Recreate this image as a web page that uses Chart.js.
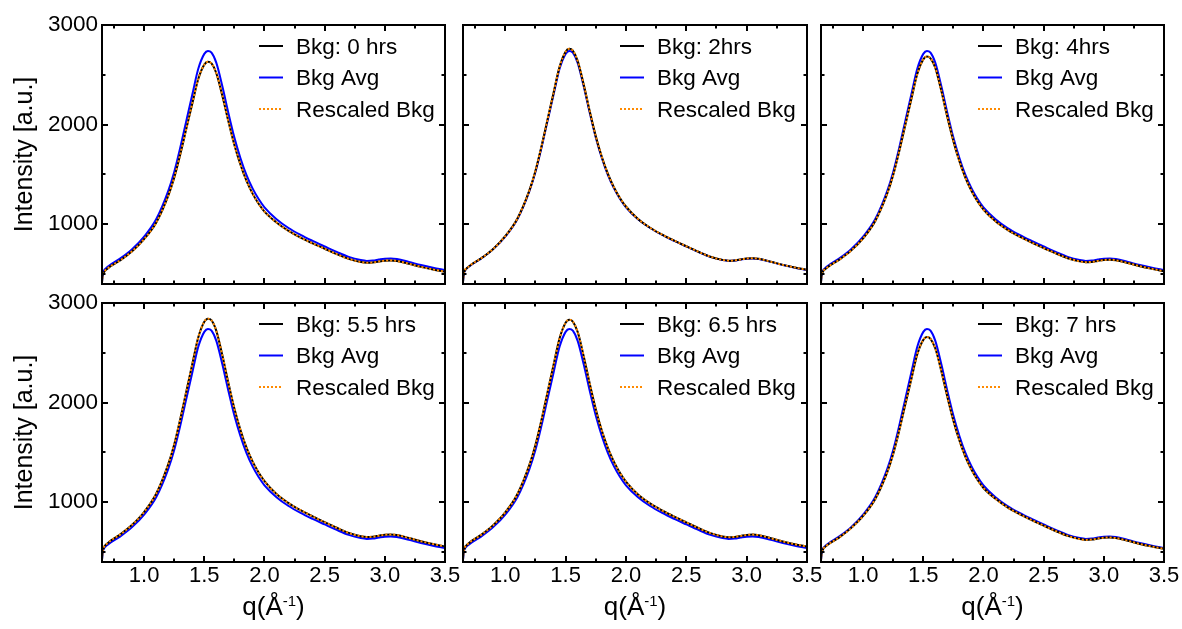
<!DOCTYPE html>
<html><head><meta charset="utf-8">
<script src="https://cdn.jsdelivr.net/npm/chart.js@4.4.1/dist/chart.umd.min.js"></script>
<style>
html,body{margin:0;padding:0;background:#fff;}
body{width:1182px;height:629px;position:relative;overflow:hidden;}
canvas{position:absolute;}
</style></head><body>
<canvas id="c0" width="475" height="300" style="left:0;top:0"></canvas>
<canvas id="c1" width="385" height="300" style="left:440px;top:0"></canvas>
<canvas id="c2" width="382" height="300" style="left:800px;top:0"></canvas>
<canvas id="c3" width="475" height="344" style="left:0;top:285px"></canvas>
<canvas id="c4" width="385" height="344" style="left:440px;top:285px"></canvas>
<canvas id="c5" width="382" height="344" style="left:800px;top:285px"></canvas>
<script>
// ---- data ----
const qValues   = [0.65, 0.655, 0.66, 0.7, 0.8, 0.9, 1.0, 1.1, 1.2, 1.25, 1.3, 1.35, 1.4, 1.45, 1.5, 1.53, 1.56, 1.6, 1.65, 1.7, 1.75, 1.8, 1.85, 1.9, 1.95, 2.0, 2.1, 2.2, 2.3, 2.4, 2.5, 2.6, 2.7, 2.8, 2.85, 2.9, 2.95, 3.0, 3.05, 3.1, 3.2, 3.3, 3.4, 3.5];
const avgValues = [420, 495, 520, 575, 655, 750, 876, 1050, 1333, 1525, 1768, 2035, 2300, 2560, 2710, 2740, 2722, 2620, 2385, 2118, 1870, 1665, 1495, 1362, 1255, 1170, 1050, 962, 893, 833, 777, 722, 672, 640, 632, 635, 645, 654, 657, 651, 622, 590, 563, 540];
const bkg0h     = [415, 485, 505, 558, 636, 728, 850, 1015, 1285, 1468, 1700, 1955, 2210, 2458, 2602, 2632, 2614, 2516, 2290, 2034, 1796, 1600, 1437, 1310, 1208, 1127, 1018, 933, 866, 808, 754, 700, 652, 621, 613, 616, 626, 634, 637, 631, 603, 572, 546, 524];
const bkg2h     = [420, 495, 521, 577, 657, 752, 880, 1055, 1340, 1535, 1780, 2050, 2318, 2580, 2732, 2762, 2743, 2640, 2403, 2134, 1884, 1678, 1507, 1372, 1264, 1178, 1053, 965, 896, 836, 779, 724, 674, 642, 634, 637, 647, 656, 659, 653, 624, 592, 565, 542];
const bkg4h     = [418, 490, 512, 564, 642, 735, 858, 1030, 1306, 1494, 1732, 1993, 2252, 2508, 2655, 2684, 2666, 2568, 2337, 2075, 1833, 1632, 1465, 1335, 1230, 1147, 1029, 943, 875, 816, 761, 708, 659, 627, 619, 622, 632, 641, 644, 638, 610, 578, 552, 529];
const bkg55h    = [425, 505, 532, 592, 675, 773, 902, 1085, 1380, 1580, 1833, 2110, 2385, 2655, 2812, 2843, 2825, 2720, 2475, 2198, 1940, 1727, 1550, 1412, 1300, 1212, 1082, 991, 920, 858, 800, 744, 692, 659, 651, 654, 664, 674, 677, 671, 641, 608, 580, 557];
const bkg65h    = [425, 503, 530, 590, 672, 770, 898, 1080, 1375, 1575, 1826, 2103, 2377, 2645, 2802, 2833, 2814, 2710, 2466, 2190, 1933, 1720, 1545, 1407, 1296, 1208, 1078, 988, 917, 855, 798, 741, 690, 657, 649, 652, 662, 672, 675, 669, 639, 606, 578, 555];
const bkg7h     = [418, 490, 512, 567, 645, 740, 862, 1030, 1300, 1485, 1720, 1978, 2232, 2485, 2630, 2659, 2641, 2543, 2316, 2058, 1818, 1620, 1456, 1328, 1225, 1143, 1034, 948, 880, 821, 765, 711, 662, 630, 622, 625, 635, 644, 647, 641, 613, 581, 555, 532];
const panelLabels = ['Bkg: 0 hrs', 'Bkg: 2hrs', 'Bkg: 4hrs', 'Bkg: 5.5 hrs', 'Bkg: 6.5 hrs', 'Bkg: 7 hrs'];
const panelBkg    = [bkg0h, bkg2h, bkg4h, bkg55h, bkg65h, bkg7h];
const avgLabel = 'Bkg Avg';
const rescaledLabel = 'Rescaled Bkg';
const xMajorTicks = [1.0, 1.5, 2.0, 2.5, 3.0, 3.5];
const xMinorTicks = [0.75, 1.25, 1.75, 2.25, 2.75, 3.25];
const yMajorTicks = [1000, 2000, 3000];
const yMinorTicks = [500, 1500, 2500];
const yTitle = 'Intensity [a.u.]';
const xTitleMain = 'q(Å', xTitleSup = '-1', xTitleEnd = ')';

const X_MIN = 0.65, X_MAX = 3.5, Y_MIN = 400, Y_MAX = 3000;
const FONT = '"Liberation Sans", Arial, Helvetica, sans-serif';

const layouts = [
  {padL:0,  padR:30, padT:25, padB:16, yW:102, xH:0,  showY:true,  showX:false},
  {padL:23, padR:18, padT:25, padB:16, yW:0,   xH:0,  showY:false, showX:false},
  {padL:21, padR:18, padT:25, padB:16, yW:0,   xH:0,  showY:false, showX:false},
  {padL:0,  padR:30, padT:18, padB:0,  yW:102, xH:67, showY:true,  showX:true},
  {padL:23, padR:18, padT:18, padB:0,  yW:0,   xH:67, showY:false, showX:true},
  {padL:21, padR:18, padT:18, padB:0,  yW:0,   xH:67, showY:false, showX:true}
];

function pts(vals){ return qValues.map((q,i)=>({x:q, y:vals[i]})); }

const framePlugin = {
  id: 'frame',
  afterDraw(chart, args, opts) {
    const {ctx, chartArea, scales} = chart;
    const {left, top, right, bottom} = chartArea;
    const x = scales.x, y = scales.y;
    ctx.save();
    ctx.strokeStyle = '#000';
    ctx.lineWidth = 2;
    ctx.setLineDash([]);
    const seg = (a,b,c,d)=>{ctx.beginPath();ctx.moveTo(a,b);ctx.lineTo(c,d);ctx.stroke();};
    const xt = (vals,len)=>vals.forEach(v=>{const p=Math.round(x.getPixelForValue(v)); seg(p,bottom,p,bottom-len); seg(p,top,p,top+len);});
    const yt = (vals,len)=>vals.forEach(v=>{const p=Math.round(y.getPixelForValue(v)); seg(left,p,left+len,p); seg(right,p,right-len,p);});
    xt(xMajorTicks,6); xt(xMinorTicks,3.5);
    yt(yMajorTicks,6); yt(yMinorTicks,3.5);
    ctx.strokeRect(left, top, right-left, bottom-top);

    // legend
    const lx = left + 157, tx = left + 194;
    ctx.font = '22.5px ' + FONT;
    ctx.textBaseline = 'alphabetic';
    ctx.textAlign = 'left';
    chart.data.datasets.forEach((ds,i)=>{
      const yb = top + 28.5 + 31.5*i;
      const yl = yb - 7.5;
      ctx.strokeStyle = ds.borderColor;
      ctx.lineWidth = ds.borderWidth;
      ctx.setLineDash(ds.borderDash || []);
      seg(lx, yl, lx+24, yl);
      ctx.setLineDash([]);
      ctx.fillStyle = '#000';
      ctx.fillText(ds.label, tx, yb);
    });

    // x axis title with superscript
    if (opts.showX) {
      const cx = (left+right)/2, base = bottom + 53;
      const f1 = '26px ' + FONT, f2 = '15px ' + FONT;
      ctx.font = f1; const w1 = ctx.measureText(xTitleMain).width, w3 = ctx.measureText(xTitleEnd).width;
      ctx.font = f2; const w2 = ctx.measureText(xTitleSup).width;
      let sx = cx - (w1+w2+w3)/2;
      ctx.fillStyle = '#000';
      ctx.font = f1; ctx.fillText(xTitleMain, sx, base); sx += w1;
      ctx.font = f2; ctx.fillText(xTitleSup, sx, base - 9); sx += w2;
      ctx.font = f1; ctx.fillText(xTitleEnd, sx, base);
    }
    ctx.restore();
  }
};

layouts.forEach((L, i) => {
  const bkg = panelBkg[i];
  new Chart(document.getElementById('c' + i), {
    type: 'line',
    data: {
      datasets: [
        {label: panelLabels[i], data: pts(bkg), borderColor: '#000000', borderWidth: 2, order: 2},
        {label: avgLabel, data: pts(avgValues), borderColor: '#0000ff', borderWidth: 2, order: 3},
        {label: rescaledLabel, data: pts(bkg), borderColor: '#ff8a00', borderWidth: 2, borderDash: [2, 2], order: 1}
      ]
    },
    options: {
      responsive: false,
      animation: false,
      events: [],
      elements: {
        point: {radius: 0},
        line: {cubicInterpolationMode: 'monotone', fill: false, borderCapStyle: 'butt'}
      },
      layout: {padding: {left: L.padL, right: L.padR, top: L.padT, bottom: L.padB}},
      plugins: {
        legend: {display: false},
        tooltip: {enabled: false},
        frame: {showX: L.showX}
      },
      scales: {
        x: {
          type: 'linear', min: X_MIN, max: X_MAX,
          grid: {display: false, drawTicks: false},
          border: {display: false},
          afterBuildTicks: s => { s.ticks = xMajorTicks.map(v => ({value: v})); },
          ticks: {display: L.showX, autoSkip: false, maxRotation: 0, padding: 1,
                  color: '#000', font: {size: 22, family: FONT},
                  callback: v => Number(v).toFixed(1)},
          afterFit: s => { s.height = L.xH; s.paddingLeft = 0; s.paddingRight = 0; }
        },
        y: {
          type: 'linear', min: Y_MIN, max: Y_MAX,
          grid: {display: false, drawTicks: false},
          border: {display: false},
          afterBuildTicks: s => { s.ticks = yMajorTicks.map(v => ({value: v})); },
          ticks: {display: L.showY, padding: 4, color: '#000', font: {size: 22.5, family: FONT},
                  callback: v => String(v)},
          title: {display: L.showY, text: yTitle, color: '#000',
                  font: {size: 25, family: FONT}, padding: {top: 10, bottom: 0}},
          afterFit: s => { s.width = L.yW; s.paddingTop = 0; s.paddingBottom = 0; }
        }
      }
    },
    plugins: [framePlugin]
  });
});
</script>
</body></html>
